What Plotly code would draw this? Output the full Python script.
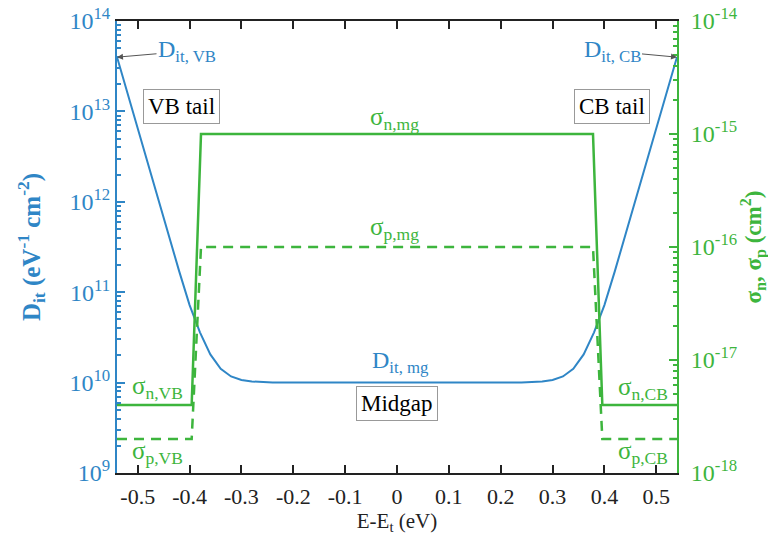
import plotly.graph_objects as go

# ---------------- data ----------------
energy_dit = [-0.54, -0.52, -0.50, -0.48, -0.46, -0.44, -0.42, -0.40, -0.38, -0.36, -0.34,
              -0.32, -0.30, -0.28, -0.26, -0.24, 0.24, 0.26, 0.28, 0.30, 0.32, 0.34, 0.36,
              0.38, 0.40, 0.42, 0.44, 0.46, 0.48, 0.50, 0.52, 0.54]
dit_values = [4.0e13, 1.6e13, 6.5e12, 2.6e12, 1.05e12, 4.2e11, 1.7e11, 7.2e10, 3.6e10, 2.05e10,
              1.42e10, 1.17e10, 1.07e10, 1.03e10, 1.01e10, 1.0e10, 1.0e10, 1.01e10, 1.03e10,
              1.07e10, 1.17e10, 1.42e10, 2.05e10, 3.6e10, 7.2e10, 1.7e11, 4.2e11, 1.05e12,
              2.6e12, 6.5e12, 1.6e13, 4.0e13]

energy_sigma = [-0.54, -0.396, -0.378, 0.378, 0.396, 0.54]
sigma_n = [4e-18, 4e-18, 1e-15, 1e-15, 4e-18, 4e-18]
sigma_p = [2e-18, 2e-18, 1e-16, 1e-16, 2e-18, 2e-18]

x_ticks = [-0.5, -0.4, -0.3, -0.2, -0.1, 0, 0.1, 0.2, 0.3, 0.4, 0.5]
x_ticktext = ["-0.5", "-0.4", "-0.3", "-0.2", "-0.1", "0", "0.1", "0.2", "0.3", "0.4", "0.5"]
dit_exps = [9, 10, 11, 12, 13, 14]
sigma_exps = [-18, -17, -16, -15, -14]

BLUE = "#2f86c6"
GREEN = "#3db53d"
FONT = "Liberation Serif"

fig = go.Figure()
fig.add_trace(go.Scatter(x=energy_dit, y=dit_values, mode="lines",
                         line=dict(color=BLUE, width=2), yaxis="y", showlegend=False))
fig.add_trace(go.Scatter(x=energy_sigma, y=sigma_n, mode="lines",
                         line=dict(color=GREEN, width=2.5), yaxis="y2", showlegend=False))
fig.add_trace(go.Scatter(x=energy_sigma, y=sigma_p, mode="lines",
                         line=dict(color=GREEN, width=2.5, dash="10px,7px"), yaxis="y2",
                         showlegend=False))

minor_dit = [k * 10 ** d for d in dit_exps[:-1] for k in range(2, 10)]
minor_sig = [k * 10.0 ** d for d in sigma_exps[:-1] for k in range(2, 10)]

fig.update_layout(
    width=768, height=527,
    margin=dict(l=109, r=99, t=13, b=62),
    paper_bgcolor="white", plot_bgcolor="white",
    font=dict(family=FONT, size=17, color="black"),
    xaxis=dict(range=[-0.54, 0.54], tickvals=x_ticks, ticktext=x_ticktext, automargin=False,
               ticks="inside", ticklen=8, tickwidth=1.5, tickcolor="#222",
               showline=True, linecolor="#222", linewidth=2, mirror="ticks",
               showgrid=False, zeroline=False, ticklabeloverflow="allow",
               tickfont=dict(family=FONT, size=22, color="#222"), ticklabelstandoff=3,
               title=dict(text="E-E<sub>t</sub> (eV)", font=dict(family=FONT, size=21, color="#222"),
                          standoff=0)),
    yaxis=dict(type="log", range=[9, 14], automargin=False,
               tickvals=[10 ** e for e in dit_exps],
               ticktext=["10<sup>%d</sup>" % e for e in dit_exps],
               ticks="inside", ticklen=8, tickwidth=1.5, tickcolor=BLUE,
               minor=dict(tickvals=minor_dit, ticks="inside", ticklen=4, tickcolor=BLUE, showgrid=False),
               showline=True, linecolor=BLUE, linewidth=2, ticklabeloverflow="allow",
               showgrid=False, zeroline=False, ticklabelstandoff=0,
               tickfont=dict(family=FONT, size=24, color=BLUE),
               title=dict(text="<b>D<sub>it</sub> (eV<sup>-1</sup> cm<sup>-2</sup>)</b>",
                          font=dict(family=FONT, size=25, color=BLUE), standoff=22)),
    yaxis2=dict(type="log", range=[-18, -14], overlaying="y", side="right", automargin=False,
                tickvals=[10.0 ** e for e in sigma_exps],
                ticktext=["10<sup>%d</sup>" % e for e in sigma_exps],
                ticks="inside", ticklen=8, tickwidth=1.5, tickcolor=GREEN,
                minor=dict(tickvals=minor_sig, ticks="inside", ticklen=4, tickcolor=GREEN, showgrid=False),
                showline=True, linecolor=GREEN, linewidth=2, ticklabeloverflow="allow",
                showgrid=False, zeroline=False, ticklabelstandoff=7,
                tickfont=dict(family=FONT, size=24, color=GREEN),
                title=dict(text="<b>σ<sub>n</sub>, σ<sub>p</sub> (cm<sup>2</sup>)</b>",
                           font=dict(family=FONT, size=23, color=GREEN), standoff=1)),
)

def label(x, y, text, color, size=25, yref="y"):
    fig.add_annotation(x=x, y=y, xref="x", yref=yref, text=text, showarrow=False,
                       font=dict(family=FONT, size=size, color=color))

# arrows to Dit endpoints
fig.add_annotation(x=-0.54, y=13.6, xref="x", yref="y", text="D<sub>it, VB</sub>",
                   showarrow=True, ax=70, ay=-6, arrowhead=2, arrowsize=1.2, arrowwidth=1,
                   arrowcolor="#555", font=dict(family=FONT, size=24, color=BLUE))
fig.add_annotation(x=0.54, y=13.6, xref="x", yref="y", text="D<sub>it, CB</sub>",
                   showarrow=True, ax=-65, ay=-6, arrowhead=2, arrowsize=1.2, arrowwidth=1,
                   arrowcolor="#555", font=dict(family=FONT, size=24, color=BLUE))

# boxed region labels
for xx, yy, txt in [(-0.416, 13.05, "VB tail"), (0.414, 13.05, "CB tail"), (0.0, 9.77, "Midgap")]:
    fig.add_annotation(x=xx, y=yy, xref="x", yref="y", text=txt, showarrow=False,
                       bordercolor="#999", borderwidth=1, borderpad=4, bgcolor="white",
                       font=dict(family=FONT, size=23, color="black"))

label(-0.004, 12.92, "σ<sub>n,mg</sub>", GREEN)
label(-0.004, 11.70, "σ<sub>p,mg</sub>", GREEN)
label(0.006, 10.23, "D<sub>it, mg</sub>", BLUE, size=24)
label(-0.462, 9.95, "σ<sub>n,VB</sub>", GREEN)
label(-0.462, 9.23, "σ<sub>p,VB</sub>", GREEN)
label(0.474, 9.94, "σ<sub>n,CB</sub>", GREEN)
label(0.474, 9.23, "σ<sub>p,CB</sub>", GREEN)

fig.write_html("out.html")
